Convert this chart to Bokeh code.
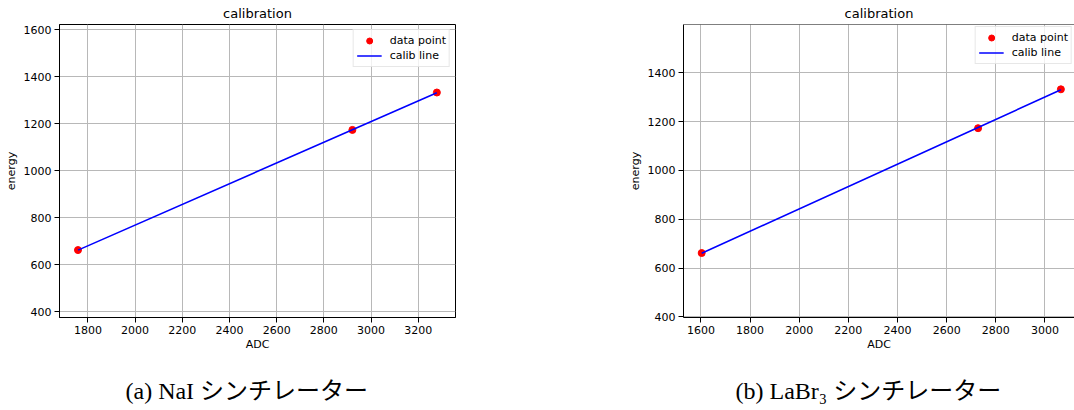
from bokeh.plotting import figure
from bokeh.models import Range1d, FixedTicker, Span
from bokeh.layouts import row, column
from bokeh.core.properties import value
from bokeh.embed import file_html
from bokeh.resources import INLINE

# ---- data ----
energies = [661.7, 1173.2, 1332.5]
nai_adc = [1758, 2921, 3279]
nai_fit = [661.5, 1174.0, 1331.8]
labr_adc = [1603, 2728, 3065]
labr_fit = [661.0, 1176.1, 1330.3]

nai_xticks = [1800, 2000, 2200, 2400, 2600, 2800, 3000, 3200]
nai_yticks = [400, 600, 800, 1000, 1200, 1400, 1600]
labr_xticks = [1600, 1800, 2000, 2200, 2400, 2600, 2800, 3000]
labr_yticks = [400, 600, 800, 1000, 1200, 1400]

nai_xrange = (1679.6, 3358.0)
nai_yrange = (374.6, 1622.0)
labr_xrange = (1529.0, 3120.4)
labr_yrange = (397.5, 1598.0)

plot_title = "calibration"
x_label = "ADC"
y_label = "energy"
point_label = "data point"
line_label = "calib line"
captions = ["(a) NaI シンチレーター", "(b) LaBr₃ シンチレーター"]

# ---- layout constants (pixels) ----
PLOT_H = 360
CAP_H = 50
CAP_LEFT = [125, 735]
CAP_MID = 20

SANS = "DejaVu Sans"
CAP_FONT = "Liberation Serif, Noto Sans CJK JP"


def make(adc, fit, xt, yt, xr, yr, width, bl, br, open_right):
    p = figure(width=width, height=PLOT_H, output_backend="svg", toolbar_location=None,
               x_range=Range1d(*xr), y_range=Range1d(*yr),
               min_border_left=bl, min_border_right=br,
               min_border_top=23, min_border_bottom=43)
    p.background_fill_color = "white"
    p.border_fill_color = "white"
    if open_right:
        p.outline_line_color = None
        p.add_layout(Span(location=yr[1], dimension="width",
                          line_color="black", line_width=1))
    else:
        p.outline_line_color = "black"
        p.outline_line_width = 1
        p.outline_line_alpha = 1

    p.title.text = plot_title
    p.title.align = "center"
    p.title.text_font = SANS
    p.title.text_font_size = "13px"
    p.title.text_font_style = "normal"
    p.title.text_color = "black"
    p.title.standoff = 7

    p.xaxis.ticker = FixedTicker(ticks=xt)
    p.yaxis.ticker = FixedTicker(ticks=yt)
    for ax in (p.xaxis, p.yaxis):
        ax.axis_line_color = "black"
        ax.major_tick_line_color = "black"
        ax.major_tick_out = 5
        ax.major_tick_in = 0
        ax.minor_tick_line_color = None
        ax.major_label_text_font = SANS
        ax.major_label_text_font_size = "11px"
        ax.major_label_text_color = "black"
        ax.axis_label_text_font = SANS
        ax.axis_label_text_font_size = "11px"
        ax.axis_label_text_font_style = "normal"
        ax.axis_label_text_color = "black"
    p.xaxis.major_label_standoff = 3
    p.xaxis.axis_label_standoff = 1
    p.yaxis.major_label_standoff = 3
    p.yaxis.axis_label_standoff = 3
    p.xaxis.axis_label = x_label
    p.yaxis.axis_label = y_label

    p.xgrid.ticker = FixedTicker(ticks=xt)
    p.ygrid.ticker = FixedTicker(ticks=yt)
    p.grid.grid_line_color = "#b8b8b8"
    p.grid.grid_line_width = 1

    p.scatter(adc, energies, size=7, color="red", legend_label=point_label)
    p.line(adc, fit, line_color="blue", line_width=1.6, legend_label=line_label)

    lg = p.legend[0]
    lg.location = "top_right"
    lg.margin = 2 if open_right else 5
    lg.padding = 3
    lg.spacing = 0
    lg.glyph_width = 25
    lg.glyph_height = 15
    lg.label_height = 15
    lg.label_standoff = 8
    lg.label_text_font = SANS
    lg.label_text_font_size = "11px"
    lg.label_text_color = "black"
    lg.border_line_color = "#d0d0d0"
    lg.border_line_width = 1
    lg.background_fill_alpha = 0.8
    return p


p1 = make(nai_adc, nai_fit, nai_xticks, nai_yticks, nai_xrange, nai_yrange,
          560, 59, 105, False)
p2 = make(labr_adc, labr_fit, labr_xticks, labr_yticks, labr_xrange, labr_yrange,
          514, 123, 0, True)

cap = figure(width=1074, height=CAP_H, output_backend="svg", toolbar_location=None,
             x_range=Range1d(0, 1074), y_range=Range1d(0, CAP_H),
             min_border=0, min_border_left=0, min_border_right=0,
             min_border_top=0, min_border_bottom=0)
cap.axis.visible = False
cap.grid.visible = False
cap.outline_line_color = None
cap.title.visible = False
cap.text(x=CAP_LEFT, y=[CAP_MID, CAP_MID], text=captions,
         text_font=value(CAP_FONT), text_font_size="24px",
         text_align="left", text_baseline="middle", text_color="black")

layout = column(row(p1, p2, spacing=0), cap, spacing=0)
open("out.html", "w").write(file_html(layout, INLINE))
